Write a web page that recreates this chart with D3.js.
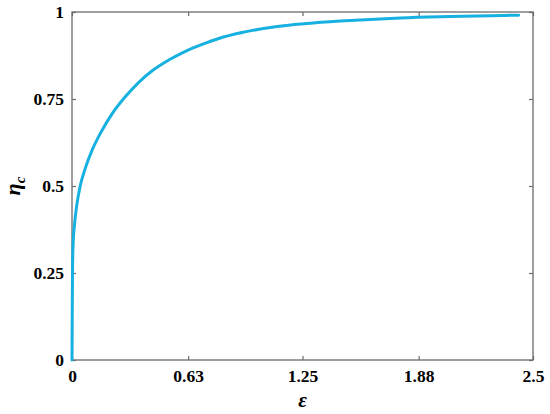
<!DOCTYPE html>
<html>
<head>
<meta charset="utf-8">
<script src="https://cdn.jsdelivr.net/npm/d3@7"></script>
<style>
  body { margin: 0; background: #fff; }
  svg text { font-family: "Liberation Serif", "Times New Roman", serif; }
</style>
</head>
<body>
<svg id="chart" width="550" height="414"></svg>
<script>
// values
const epsilon = [0, 0.0015, 0.003, 0.0065, 0.0136, 0.026, 0.0444, 0.0715, 0.109, 0.164,
  0.218, 0.290, 0.362, 0.435, 0.525, 0.615, 0.706, 0.796, 0.922, 1.094, 1.275, 1.455,
  1.781, 2.05, 2.422];
const etaC = [0, 0.15, 0.268, 0.34, 0.39, 0.445, 0.5, 0.55, 0.603, 0.661,
  0.708, 0.757, 0.798, 0.831, 0.862, 0.887, 0.907, 0.924, 0.941, 0.957, 0.967, 0.974,
  0.983, 0.987, 0.991];
const xTicks = [0, 0.63, 1.25, 1.88, 2.5];
const xTickLabels = ['0', '0.63', '1.25', '1.88', '2.5'];
const yTicks = [0, 0.25, 0.5, 0.75, 1];
const yTickLabels = ['0', '0.25', '0.5', '0.75', '1'];

const serif = '"Liberation Serif", "Times New Roman", serif';

const svg = d3.select('#chart'),
  margin = {top: 12, right: 17, bottom: 54, left: 72},
  width = +svg.attr('width') - margin.left - margin.right,
  height = +svg.attr('height') - margin.top - margin.bottom;

const g = svg.append('g')
  .attr('transform', 'translate(' + margin.left + ',' + margin.top + ')');

const x = d3.scaleLinear().domain([0, 2.5]).range([0, width]);
const y = d3.scaleLinear().domain([0, 1]).range([height, 0]);

const axisColor = '#6b6b6b';

function styleAxis(sel, showLabels) {
  sel.attr('font-family', serif);
  sel.select('.domain').remove();
  sel.selectAll('.tick line').attr('stroke', axisColor).attr('stroke-width', 1.2);
  sel.selectAll('.tick text')
    .attr('fill', '#000')
    .style('font-family', serif)
    .style('font-size', '17.5px')
    .style('font-weight', 'bold')
    .style('display', showLabels ? null : 'none');
}

// bottom & left with labels, top & right mirrored ticks
g.append('g')
  .attr('transform', 'translate(0,' + height + ')')
  .call(d3.axisBottom(x).tickValues(xTicks).tickSize(-4).tickPadding(10)
    .tickFormat((d, i) => xTickLabels[i]))
  .call(sel => styleAxis(sel, true));

g.append('g')
  .call(d3.axisTop(x).tickValues(xTicks).tickSize(-4))
  .call(sel => styleAxis(sel, false));

g.append('g')
  .call(d3.axisLeft(y).tickValues(yTicks).tickSize(-4).tickPadding(8)
    .tickFormat((d, i) => yTickLabels[i]))
  .call(sel => styleAxis(sel, true));

g.append('g')
  .attr('transform', 'translate(' + width + ',0)')
  .call(d3.axisRight(y).tickValues(yTicks).tickSize(-4))
  .call(sel => styleAxis(sel, false));

// box
g.append('rect')
  .attr('width', width)
  .attr('height', height)
  .attr('fill', 'none')
  .attr('stroke', axisColor)
  .attr('stroke-width', 1.3);

// curve
const line = d3.line()
  .x((d, i) => x(epsilon[i]))
  .y(d => y(d))
  .curve(d3.curveMonotoneX);

g.append('path')
  .datum(etaC)
  .attr('fill', 'none')
  .attr('stroke', '#16b1e0')
  .attr('stroke-width', 3)
  .attr('stroke-linecap', 'round')
  .attr('d', line);

// axis titles
svg.append('text')
  .attr('x', margin.left + x(1.25))
  .attr('y', 407)
  .attr('text-anchor', 'middle')
  .style('font-family', serif)
  .style('font-size', '21px')
  .style('font-style', 'italic')
  .style('font-weight', 'bold')
  .text('ε');

const yl = svg.append('text')
  .attr('transform', 'translate(20,' + (margin.top + y(0.5)) + ') rotate(-90)')
  .attr('text-anchor', 'middle')
  .style('font-family', serif)
  .style('font-size', '22px')
  .style('font-style', 'italic')
  .style('font-weight', 'bold');
yl.append('tspan').text('η');
yl.append('tspan').attr('dy', 5).style('font-size', '15px').text('c');
</script>
</body>
</html>
